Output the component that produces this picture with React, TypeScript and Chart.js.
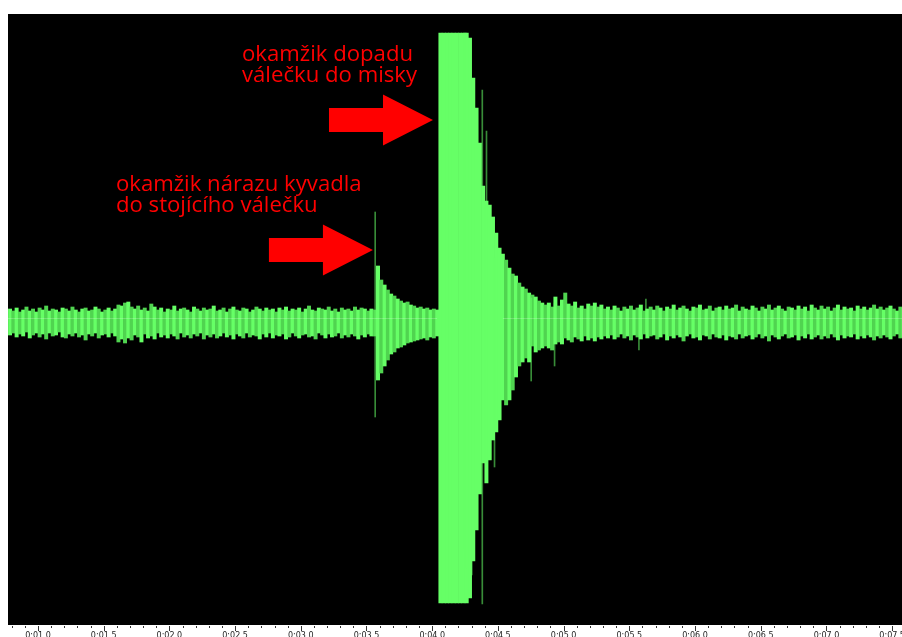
import React, { useEffect, useRef } from 'react';
import { Chart, registerables } from 'chart.js';

Chart.register(...registerables);

// ---- time grid of the envelope (seconds) ----
const binStep = 0.025;

// quiet noise before the impacts (from 0:00.775)
const quietBeforeStart = 0.775;
const quietBeforeHi = [
  9, 7, 10, 6, 8, 11, 7, 9, 6, 10,
  8, 12, 7, 9, 8, 6, 10, 9, 7, 11,
  8, 6, 9, 10, 7, 8, 11, 9, 6, 8,
  10, 7, 9, 13, 12, 15, 16, 11, 9, 12,
  8, 10, 7, 14, 11, 8, 10, 6, 9, 8,
  12, 7, 9, 10, 8, 6, 11, 9, 7, 10,
  8, 9, 12, 7, 8, 10, 6, 9, 11, 8,
  7, 10, 9, 6, 8, 11, 9, 7, 10, 8,
  9, 6, 10, 8, 11, 7, 9, 8, 10, 6,
  9, 12, 8, 7, 10, 9, 8, 11, 7, 9,
  6, 10, 8, 9, 7, 11, 8, 10, 9, 7,
  9,
];
const quietBeforeLo = [
  -17, -15, -19, -16, -18, -14, -20, -17, -15, -19,
  -16, -21, -15, -18, -17, -14, -19, -20, -16, -18,
  -15, -19, -17, -22, -16, -18, -15, -20, -17, -16,
  -19, -15, -18, -24, -21, -25, -20, -22, -17, -19,
  -24, -16, -20, -18, -21, -15, -19, -17, -20, -16,
  -18, -21, -15, -19, -17, -20, -16, -18, -15, -21,
  -17, -19, -16, -20, -18, -15, -19, -17, -21, -16,
  -18, -20, -15, -19, -17, -18, -21, -16, -19, -15,
  -20, -17, -18, -16, -21, -19, -15, -18, -20, -17,
  -16, -19, -18, -21, -15, -17, -20, -16, -19, -18,
  -15, -20, -17, -19, -16, -18, -21, -17, -19, -16,
  -18,
];

// pendulum hitting the standing cylinder
const impactStart = 3.55;
const impactHi = [8, 52, 38, 33, 28, 24, 22, 19, 17, 15, 16, 13, 12, 10, 11, 9, 10, 8, 9, 8];
const impactLo = [-18, -62, -55, -48, -42, -36, -34, -30, -29, -27, -25, -24, -23, -22, -21, -20, -22, -19, -20, -18];

// cylinder falling into the bowl (clipped) and decay
const dropStart = 4.05;
const dropHi = [
  285, 285, 285, 285, 285, 285, 285, 285, 285,
  280, 240, 210, 175, 132, 117, 113, 101, 85, 70,
  64, 58, 50, 44, 42, 35, 31, 29, 25, 23,
  21, 17, 15, 13, 15, 11, 21, 12, 18, 25,
  14, 12, 16, 10, 12, 9,
];
const dropLo = [
  -285, -285, -285, -285, -285, -285, -285, -285, -285,
  -280, -243, -212, -176, -145, -165, -142, -122, -114, -102,
  -82, -87, -82, -72, -59, -48, -44, -40, -44, -28,
  -34, -32, -30, -28, -30, -32, -26, -24, -26, -20,
  -22, -24, -19, -21, -23, -18,
];

// quiet noise afterwards
const quietAfterStart = 5.175;
const quietAfterHi = [
  14, 12, 15, 11, 13, 9, 11, 8, 12, 10,
  7, 11, 9, 12, 8, 10, 13, 7, 9, 11,
  8, 12, 10, 7, 11, 9, 13, 8, 10, 12,
  9, 7, 11, 10, 13, 8, 9, 12, 7, 10,
  11, 8, 12, 9, 10, 13, 7, 11, 9, 8,
  12, 10, 7, 11, 9, 13, 8, 10, 12, 9,
  7, 11, 10, 8, 12, 9, 11, 7, 13, 10,
  8, 12, 9, 11, 7, 10, 13, 8, 11, 9,
  10, 7, 12, 9, 11, 8, 10, 13, 9, 11,
  8, 10, 12, 9, 7, 11, 10,
];
const quietAfterLo = [
  -22, -20, -23, -19, -21, -18, -20, -17, -21, -19,
  -16, -20, -18, -22, -17, -19, -21, -16, -20, -18,
  -17, -21, -19, -16, -22, -18, -20, -17, -19, -23,
  -18, -16, -20, -19, -22, -17, -18, -21, -16, -19,
  -20, -17, -22, -18, -19, -21, -16, -20, -18, -17,
  -21, -19, -16, -20, -18, -23, -17, -19, -21, -18,
  -16, -20, -19, -17, -22, -18, -20, -16, -21, -19,
  -17, -21, -18, -20, -16, -19, -22, -17, -20, -18,
  -19, -16, -21, -18, -20, -17, -19, -22, -18, -20,
  -17, -19, -21, -18, -16, -20, -19,
];

// single-sample spikes (thin darker strokes)
const spikeTimes = [3.57, 4.245, 4.262, 4.305, 4.385, 4.417, 4.478, 4.757, 4.935, 5.577, 5.63];
const spikeHi = [106, 285, 285, 226, 228, 187, 60, 20, 15, 10, 19];
const spikeLo = [-99, -230, -250, -257, -286, -150, -149, -63, -48, -32, -14];

// axes
const timeMin = 0.772;
const timeMax = 7.575;
const ampMin = -307;
const ampMax = 304;
const majorTicks = [1.0, 1.5, 2.0, 2.5, 3.0, 3.5, 4.0, 4.5, 5.0, 5.5, 6.0, 6.5, 7.0, 7.5];
const majorTickLabels = ['0:01.0', '0:01.5', '0:02.0', '0:02.5', '0:03.0', '0:03.5', '0:04.0', '0:04.5', '0:05.0', '0:05.5', '0:06.0', '0:06.5', '0:07.0', '0:07.5'];
const minorTickStep = 0.1;

// annotations (arrow tips anchored to data)
const annotationTimes = [3.549, 4.006];
const annotationValues = [68, 198];
const annotationLines = [
  ['okamžik nárazu kyvadla', 'do stojícího válečku'],
  ['okamžik dopadu', 'válečku do misky'],
];

// styles
const WAVE_COLOR = '#66ff66';
const WAVE_COLOR_DIM = '#50d450';
const SPIKE_COLOR = 'rgba(102,255,102,0.55)';
const RED = '#ff0000';
const textOffsetX = [-257, -191];
const textFitWidth = 246;

function segment(start: number, hi: number[], lo: number[]) {
  return hi.map((h, k) => ({ x: start + k * binStep, y: [lo[k], h] }));
}

const waveData = [
  ...segment(quietBeforeStart, quietBeforeHi, quietBeforeLo),
  ...segment(impactStart, impactHi, impactLo),
  ...segment(dropStart, dropHi, dropLo),
  ...segment(quietAfterStart, quietAfterHi, quietAfterLo),
];
const spikeData = spikeTimes.map((t, k) => ({ x: t, y: [spikeLo[k], spikeHi[k]] }));

const decorPlugin = {
  id: 'decor',
  beforeDraw(chart: any) {
    const { ctx, chartArea: a } = chart;
    ctx.save();
    ctx.fillStyle = '#ffffff';
    ctx.fillRect(0, 0, chart.width, chart.height);
    ctx.fillStyle = '#000000';
    ctx.fillRect(a.left, a.top, a.right - a.left, a.bottom - a.top);
    ctx.restore();
  },
  afterDatasetsDraw(chart: any) {
    const { ctx, chartArea: a } = chart;
    const xs = chart.scales.x;
    const ys = chart.scales.y;
    ctx.save();

    // faint zero line over the quiet noise band
    const zeroY = Math.round(ys.getPixelForValue(0)) + 0.5;
    ctx.strokeStyle = 'rgba(230,255,230,0.25)';
    ctx.lineWidth = 1;
    ctx.beginPath();
    waveData.forEach((d) => {
      if (d.y[1] < 60) {
        const x0 = xs.getPixelForValue(d.x - binStep / 2);
        const x1 = xs.getPixelForValue(d.x + binStep / 2);
        ctx.moveTo(Math.max(a.left, x0), zeroY);
        ctx.lineTo(Math.min(a.right, x1), zeroY);
      }
    });
    ctx.stroke();

    // time axis ticks
    ctx.strokeStyle = '#333';
    ctx.beginPath();
    for (let k = 0; ; k++) {
      const v = Math.round((Math.ceil(timeMin / minorTickStep) * minorTickStep + k * minorTickStep) * 10) / 10;
      if (v > timeMax + 1e-9) break;
      const px = Math.round(xs.getPixelForValue(v)) + 0.5;
      const major = majorTicks.some((m) => Math.abs(m - v) < 1e-6);
      ctx.moveTo(px, a.bottom + 1);
      ctx.lineTo(px, a.bottom + (major ? 6 : 3));
    }
    ctx.stroke();
    ctx.fillStyle = '#222';
    ctx.font = '8px "DejaVu Sans"';
    ctx.textAlign = 'center';
    ctx.textBaseline = 'top';
    majorTicks.forEach((v, k) => {
      ctx.fillText(majorTickLabels[k], xs.getPixelForValue(v), a.bottom + 7);
    });

    // annotations
    ctx.font = '20px "Open Sans"';
    const w = ctx.measureText(annotationLines[0][0]).width;
    const size = (20 * textFitWidth) / w;
    annotationTimes.forEach((t, k) => {
      const tx = xs.getPixelForValue(t);
      const ty = ys.getPixelForValue(annotationValues[k]);
      ctx.fillStyle = RED;
      ctx.beginPath();
      ctx.moveTo(tx, ty);
      ctx.lineTo(tx - 50, ty - 25.5);
      ctx.lineTo(tx - 50, ty - 12);
      ctx.lineTo(tx - 104, ty - 12);
      ctx.lineTo(tx - 104, ty + 12);
      ctx.lineTo(tx - 50, ty + 12);
      ctx.lineTo(tx - 50, ty + 25.5);
      ctx.closePath();
      ctx.fill();
      ctx.font = `${size}px "Open Sans"`;
      ctx.textAlign = 'left';
      ctx.textBaseline = 'alphabetic';
      ctx.fillText(annotationLines[k][0], tx + textOffsetX[k], ty - 59.5);
      ctx.fillText(annotationLines[k][1], tx + textOffsetX[k], ty - 38);
    });
    ctx.restore();
  },
};

export default function App() {
  const ref = useRef<HTMLCanvasElement>(null);
  useEffect(() => {
    document.body.style.overflow = 'hidden';
    const chart = new Chart(ref.current as HTMLCanvasElement, {
      type: 'bar',
      data: {
        datasets: [
          {
            label: 'spikes',
            data: spikeData as any,
            xAxisID: 'xs',
            yAxisID: 'y',
            backgroundColor: SPIKE_COLOR,
            borderWidth: 0,
            barThickness: 1,
          },
          {
            label: 'signal',
            data: waveData as any,
            xAxisID: 'x',
            yAxisID: 'y',
            backgroundColor: (c: any) => {
              const d = c.raw as { y: number[] } | undefined;
              if (!d) return WAVE_COLOR;
              return d.y[1] < 60 && c.dataIndex % 2 === 1 ? WAVE_COLOR_DIM : WAVE_COLOR;
            },
            borderWidth: 0,
            barThickness: 3.3,
          },
        ],
      },
      options: {
        responsive: false,
        animation: false,
        devicePixelRatio: 1,
        events: [],
        layout: { padding: { left: 8, top: 14, right: 0, bottom: 25 } },
        plugins: { legend: { display: false }, tooltip: { enabled: false } },
        scales: {
          x: { type: 'linear', min: timeMin, max: timeMax, offset: false, display: false },
          xs: { type: 'linear', min: timeMin, max: timeMax, offset: false, display: false },
          y: { type: 'linear', min: ampMin, max: ampMax, display: false },
        },
      },
      plugins: [decorPlugin],
    });
    return () => chart.destroy();
  }, []);
  return (
    <div style={{ position: 'fixed', left: 0, top: 0, width: 902, height: 650 }}>
      <canvas ref={ref} width={902} height={650} style={{ display: 'block', width: 902, height: 650 }} />
    </div>
  );
}
